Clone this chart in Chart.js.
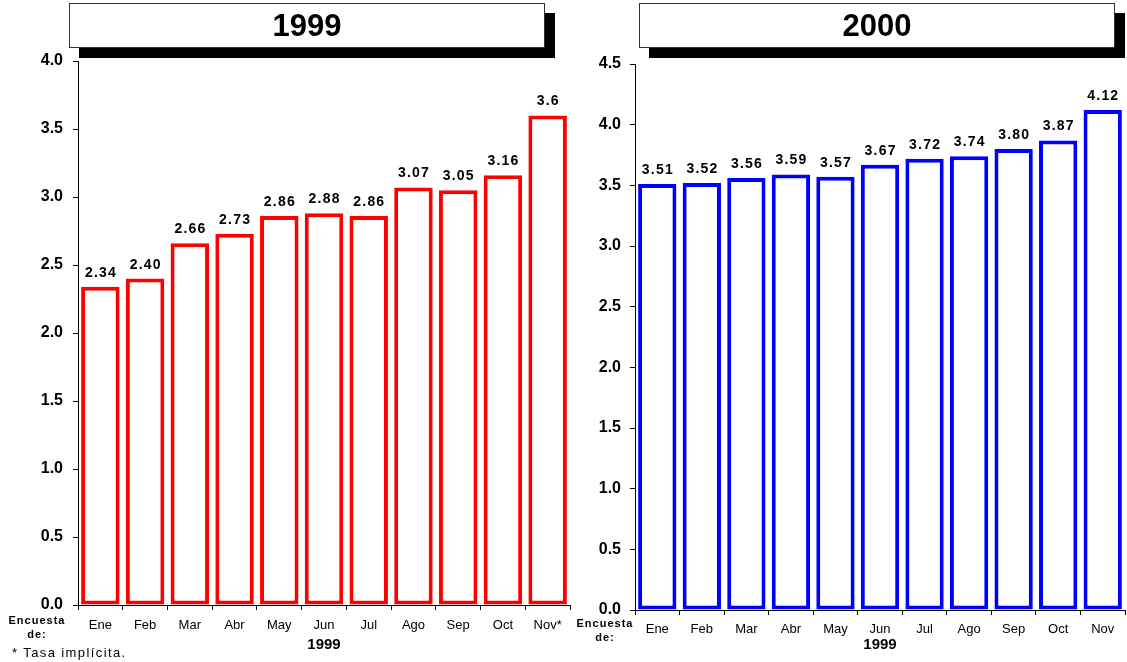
<!DOCTYPE html>
<html>
<head>
<meta charset="utf-8">
<script src="https://cdn.jsdelivr.net/npm/chart.js@4.4.0/dist/chart.umd.min.js"></script>
<style>
  body { margin:0; background:#fff; width:1127px; height:662px; position:relative; overflow:hidden;
         font-family: Arial, "Liberation Sans", sans-serif; }
  canvas { position:absolute; top:0; }
  .titleBox { position:absolute; top:3px; height:43px; width:474px; background:#fff; border:1px solid #333;
              box-shadow:10px 10px 0 #000; text-align:center; font-weight:bold; font-size:31px; line-height:43px; }
  .note { position:absolute; color:#000; }
  .enc { font-weight:bold; font-size:11px; letter-spacing:1px; text-align:center; line-height:14px; width:70px; }
</style>
</head>
<body>
<canvas id="chart1999" width="580" height="662" style="left:0"></canvas>
<canvas id="chart2000" width="547" height="662" style="left:580px"></canvas>

<div class="titleBox" style="left:69px">1999</div>
<div class="titleBox" style="left:639px">2000</div>

<div class="note enc" style="left:2px; top:613px">Encuesta<br>de:</div>
<div class="note enc" style="left:570px; top:616px">Encuesta<br>de:</div>
<div class="note" style="left:12px; top:645px; font-size:13px; letter-spacing:1.4px">* Tasa implícita.</div>

<script>
// datos
const months1999 = ['Ene','Feb','Mar','Abr','May','Jun','Jul','Ago','Sep','Oct','Nov*'];
const months2000 = ['Ene','Feb','Mar','Abr','May','Jun','Jul','Ago','Sep','Oct','Nov'];
const values1999 = [2.34, 2.40, 2.66, 2.73, 2.86, 2.88, 2.86, 3.07, 3.05, 3.16, 3.6];
const values2000 = [3.51, 3.52, 3.56, 3.59, 3.57, 3.67, 3.72, 3.74, 3.80, 3.87, 4.12];
const labels1999 = ['2.34','2.40','2.66','2.73','2.86','2.88','2.86','3.07','3.05','3.16','3.6'];
const labels2000 = ['3.51','3.52','3.56','3.59','3.57','3.67','3.72','3.74','3.80','3.87','4.12'];
const axisTitle = '1999';

Chart.defaults.font.family = 'Arial, "Liberation Sans", sans-serif';
Chart.defaults.color = '#000';

// etiquetas encima de cada barra
const valueLabels = {
  id: 'valueLabels',
  afterDatasetsDraw(chart, args, opts){
    const ctx = chart.ctx;
    const meta = chart.getDatasetMeta(0);
    ctx.save();
    ctx.font = 'bold 14px Arial, "Liberation Sans", sans-serif';
    ctx.letterSpacing = '1.2px';
    ctx.fillStyle = '#000';
    ctx.textAlign = 'center';
    ctx.textBaseline = 'alphabetic';
    meta.data.forEach((bar, i)=>{
      ctx.fillText(opts.labels[i], bar.x + 0.6, bar.y - 10);
    });
    ctx.restore();
  }
};

function makeChart(id, cats, vals, labels, color, yMax, cfg){
  const ctx = document.getElementById(id).getContext('2d');
  return new Chart(ctx, {
    type: 'bar',
    data: {
      labels: cats,
      datasets: [{ data: vals, backgroundColor:'#fff', borderColor: color, borderWidth: 4,
                   borderSkipped: false, barPercentage: 0.86, categoryPercentage: 1 }]
    },
    options: {
      responsive: false,
      animation: false,
      layout: { padding: cfg.padding },
      plugins: {
        legend: { display:false },
        tooltip: { enabled:false },
        valueLabels: { labels: labels }
      },
      scales: {
        x: {
          grid: { display:true, drawOnChartArea:false, drawTicks:true, tickLength:5, color:'#000', offset:true },
          border: { display:true, color:'#000', width:1 },
          ticks: { font:{ size:13 }, padding: cfg.xPad, color:'#000', maxRotation:0, autoSkip:false },
          title: { display:true, text: axisTitle, font:{ size:15, weight:'bold' }, padding:{ top:0, bottom:1 }, color:'#000' },
          afterFit: s => { s.height = cfg.xHeight; }
        },
        y: {
          min: 0, max: yMax,
          grid: { display:true, drawOnChartArea:false, drawTicks:true, tickLength:5, color:'#000' },
          border: { display:true, color:'#000', width:1 },
          ticks: { stepSize:0.5, font:{ size:16, weight:'bold' }, padding: cfg.yPad, color:'#000',
                   callback: v => Number(v).toFixed(1) },
          afterFit: s => { s.width = cfg.yWidth; }
        }
      }
    },
    plugins: [valueLabels]
  });
}

makeChart('chart1999', months1999, values1999, labels1999, '#ff0000', 4.0,
  { padding:{ left:10, right:10, top:61, bottom:7 }, yWidth:68, xHeight:50, xPad:8, yPad:10 });
makeChart('chart2000', months2000, values2000, labels2000, '#0000ff', 4.5,
  { padding:{ left:0, right:2, top:64, bottom:7 }, yWidth:55, xHeight:45, xPad:7, yPad:9 });
</script>
</body>
</html>
